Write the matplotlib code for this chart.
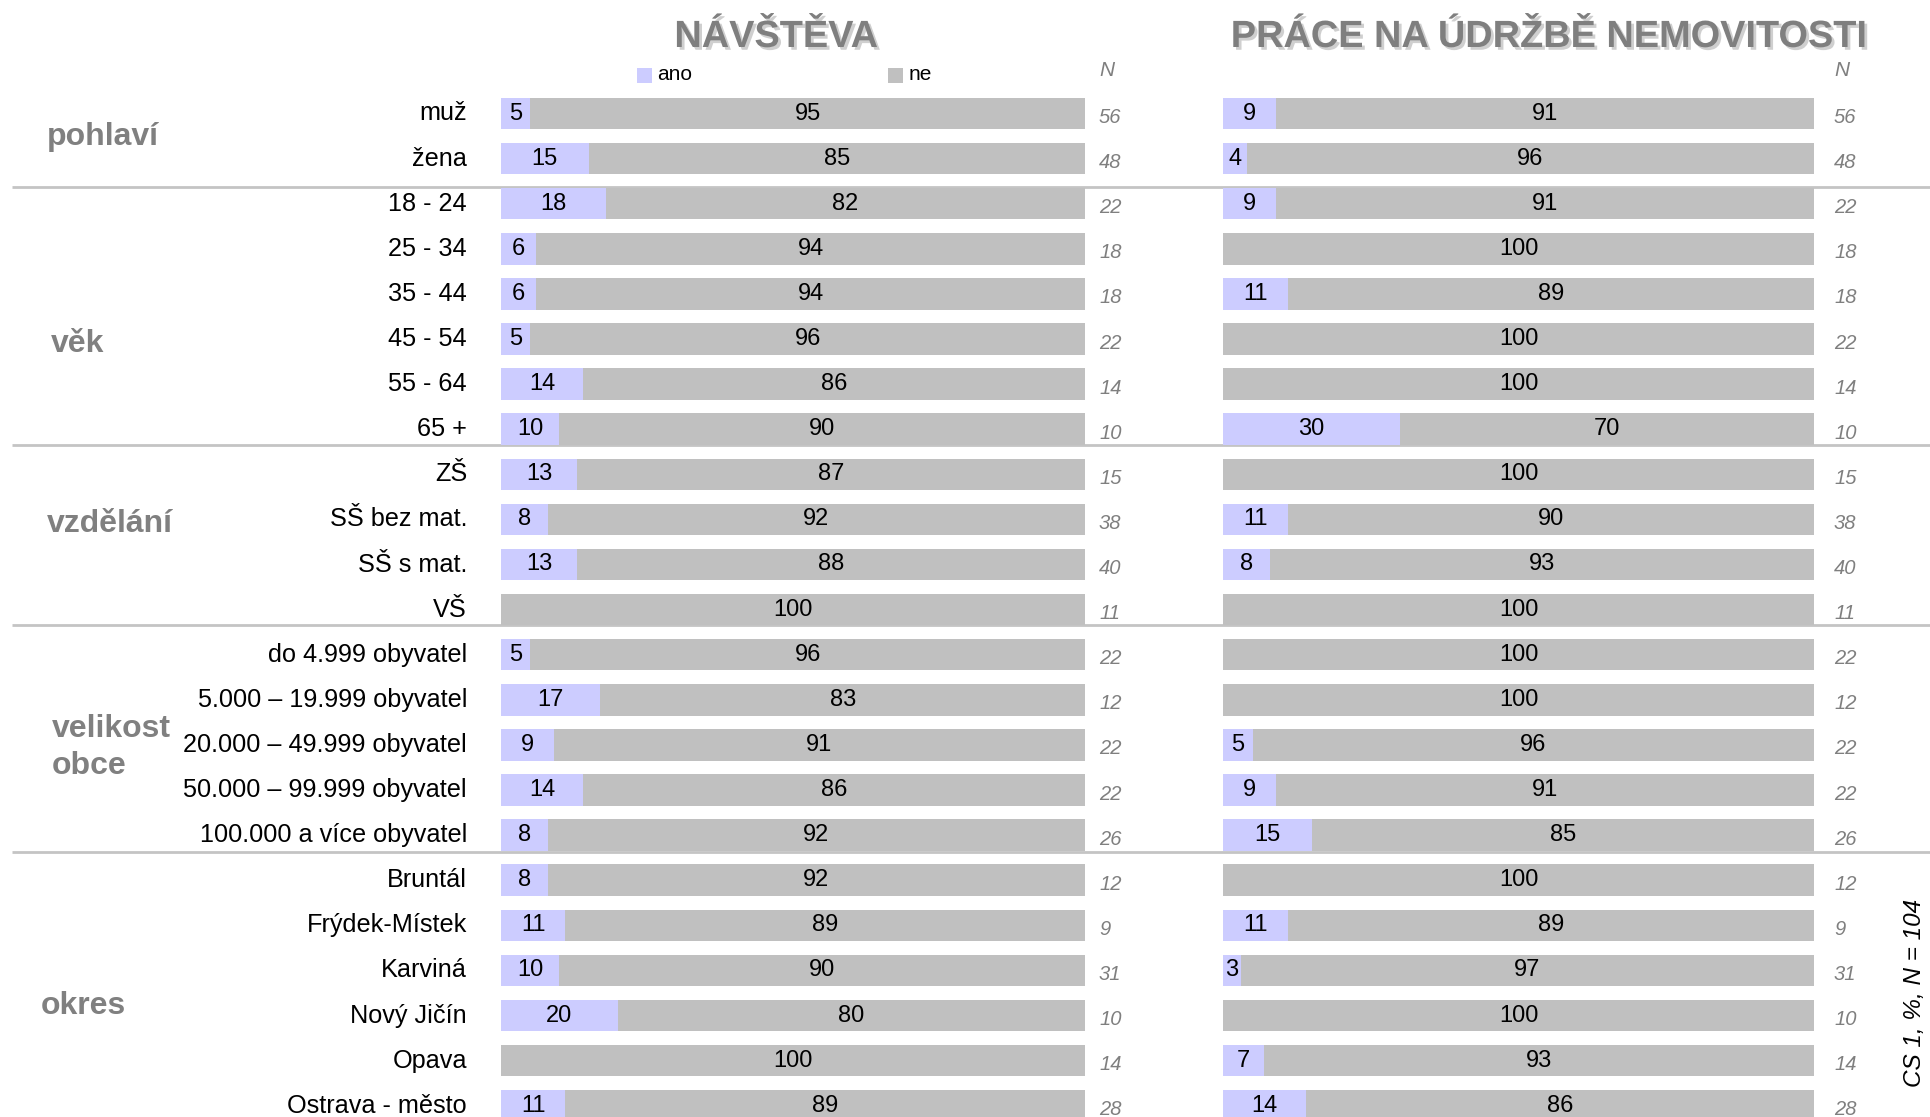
import matplotlib
matplotlib.use('Agg')
import matplotlib.pyplot as plt
import matplotlib.patheffects as pe
from matplotlib.patches import Rectangle
import numpy as np

plt.rcParams['font.family'] = ['Liberation Sans', 'DejaVu Sans']

# ---------------- data ----------------
groups = ['pohlaví', 'věk', 'vzdělání', 'velikost\nobce', 'okres']
group_sizes = [2, 6, 4, 5, 6]
categories = ['muž', 'žena',
              '18 - 24', '25 - 34', '35 - 44', '45 - 54', '55 - 64', '65 +',
              'ZŠ', 'SŠ bez mat.', 'SŠ s mat.', 'VŠ',
              'do 4.999 obyvatel', '5.000 – 19.999 obyvatel', '20.000 – 49.999 obyvatel',
              '50.000 – 99.999 obyvatel', '100.000 a více obyvatel',
              'Bruntál', 'Frýdek-Místek', 'Karviná', 'Nový Jičín', 'Opava', 'Ostrava - město']
navsteva_ano = [5, 15, 18, 6, 6, 5, 14, 10, 13, 8, 13, 0, 5, 17, 9, 14, 8, 8, 11, 10, 20, 0, 11]
navsteva_ne = [95, 85, 82, 94, 94, 96, 86, 90, 87, 92, 88, 100, 96, 83, 91, 86, 92, 92, 89, 90, 80, 100, 89]
udrzba_ano = [9, 4, 9, 0, 11, 0, 0, 30, 0, 11, 8, 0, 0, 0, 5, 9, 15, 0, 11, 3, 0, 7, 14]
udrzba_ne = [91, 96, 91, 100, 89, 100, 100, 70, 100, 90, 93, 100, 100, 100, 96, 91, 85, 100, 89, 97, 100, 93, 86]
n_counts = [56, 48, 22, 18, 18, 22, 14, 10, 15, 38, 40, 11, 22, 12, 22, 22, 26, 12, 9, 31, 10, 14, 28]
titles = ['NÁVŠTĚVA', 'PRÁCE NA ÚDRŽBĚ NEMOVITOSTI']
legend_labels = ['ano', 'ne']
note = 'CS 1, %, N = 104'

# ---------------- layout ----------------
W, H = 1930, 1117
C_ANO = '#ccccff'
C_NE = '#c0c0c0'
C_GRAY = '#7f7f7f'
row0_px, row_px = 113.5, 45.1


def r(px):
    return (px - row0_px) / row_px


ylim = (r(H), r(0))
fig = plt.figure(figsize=(W / 100, H / 100), dpi=100)

ax_bg = fig.add_axes([0, 0, 1, 1], zorder=0)
ax_bg.set_xlim(0, W)
ax_bg.set_ylim(*ylim)
ax_bg.axis('off')

panels = [(501, 1085, navsteva_ano, navsteva_ne, 1099, 776),
          (1223, 1814, udrzba_ano, udrzba_ne, 1834, 1548)]
y = np.arange(len(categories))

for (x0, x1, ano, ne, nx, tx), title in zip(panels, titles):
    ax = fig.add_axes([x0 / W, 0, (x1 - x0) / W, 1], zorder=1)
    ax.patch.set_alpha(0)
    ax.set_xlim(0, 100)
    ax.set_ylim(*ylim)
    ax.axis('off')
    ax.barh(y, ano, height=0.7, color=C_ANO, linewidth=0)
    ax.barh(y, ne, left=ano, height=0.7, color=C_NE, linewidth=0)
    for i, (a, b) in enumerate(zip(ano, ne)):
        if a > 0:
            ax.text(a / 2, i, str(a), ha='center', va='center', fontsize=17, color='black')
        if b > 0:
            right = min(a + b, 100)
            ax.text((a + right) / 2, i, str(b), ha='center', va='center', fontsize=17, color='black')
    # N column
    ax_bg.text(nx, r(71), 'N', ha='left', va='center', fontsize=15, style='italic', color=C_GRAY)
    for i, nv in enumerate(n_counts):
        ax_bg.text(nx, i + 0.09, str(nv), ha='left', va='center', fontsize=14.5,
                   style='italic', color=C_GRAY)
    # title
    ax_bg.text(tx, r(37), title, ha='center', va='center', fontsize=27.3, fontweight='bold',
               color=C_GRAY,
               path_effects=[pe.withSimplePatchShadow(offset=(2, -2), shadow_rgbFace='#cfcfcf', alpha=1)])

# legend
sq_h = 15 / row_px
for (sx, tx2), lab, col in zip([(637, 657), (888, 909)], legend_labels, [C_ANO, C_NE]):
    ax_bg.add_patch(Rectangle((sx, r(68)), 15, sq_h, color=col, linewidth=0))
    ax_bg.text(tx2, r(75), lab, ha='left', va='center', fontsize=15, color='black')

# row labels
for i, cat in enumerate(categories):
    ax_bg.text(467, i, cat, ha='right', va='center', fontsize=18.2, color='black')

# group labels and separators
group_x = [47, 51, 47, 52, 41]
group_offsets = [0.03, 0.6, -0.4, 0.05, 0.3]
sep_offsets = [0.13, -0.15, -0.15, -0.13]
start = 0
for k, (g, size, off, gx) in enumerate(zip(groups, group_sizes, group_offsets, group_x)):
    center = start + (size - 1) / 2
    ax_bg.text(gx, center + off, g, ha='left', va='center', fontsize=23, fontweight='bold',
               color='#808080', linespacing=1.3)
    end = start + size
    if end < len(categories):
        yb = end - 0.5 + sep_offsets[k]
        ax_bg.plot([12, W], [yb, yb], color='#c4c4c4', lw=2, solid_capstyle='butt')
    start = end

# note
ax_bg.text(1915, r(993), note, rotation=90, ha='center', va='center', fontsize=17.5,
           style='italic', color='black')

fig.savefig('out.png', dpi=100)
